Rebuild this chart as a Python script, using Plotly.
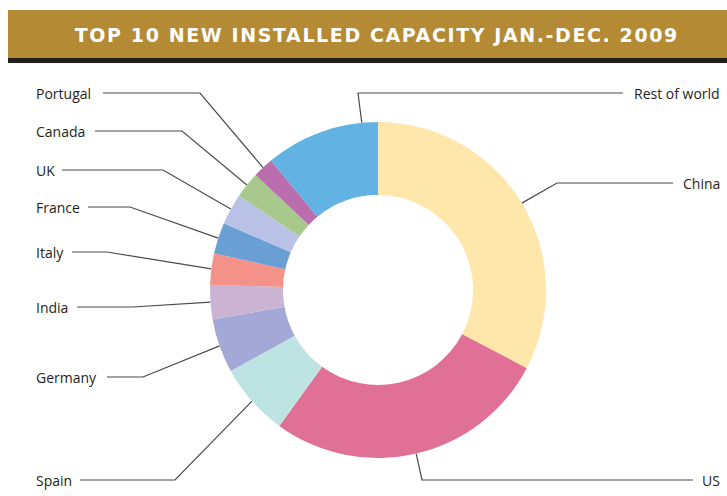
import math
import plotly.graph_objects as go

# share of new installed capacity (%), clockwise from 12 o'clock
countries = ["China", "US", "Spain", "Germany", "India", "Italy", "France",
             "UK", "Canada", "Portugal", "Rest of world"]
shares = [32.7, 27.3, 7.0, 5.2, 3.3, 3.0, 3.0, 3.0, 2.5, 2.0, 11.0]
colors = ["#FFE6AA", "#E07095", "#BEE3E3", "#A3A8D6", "#CBB3D3", "#F4928A",
          "#6A9FD6", "#B9C2E6", "#A8C98B", "#BA6EAE", "#62B3E3"]

W, H = 727, 496
CX, CY, R = 378, 290, 168

# label layout in pixels: (side, text y, line start x, elbow x, anchor fraction in slice)
LABELS = {
    "Portugal":      ("left", 93, 103, 200, 0.5),
    "Canada":        ("left", 131, 95, 182, 0.5),
    "UK":            ("left", 170, 62, 163, 0.5),
    "France":        ("left", 207, 88, 130, 0.5),
    "Italy":         ("left", 252, 72, 107, 0.5),
    "India":         ("left", 307, 77, 133, 0.5),
    "Germany":       ("left", 377, 107, 143, 0.5),
    "Spain":         ("left", 480, 80, 175, 0.5),
    "Rest of world": ("right", 93, 623, 358, 0.86),
    "China":         ("right", 183, 673, 557, 0.5),
    "US":            ("right", 480, 693, 422, 0.5),
}

fig = go.Figure()

fig.add_trace(go.Pie(
    labels=countries, values=shares, sort=False, direction="clockwise",
    rotation=0, hole=95 / R, textinfo="none", hoverinfo="label+percent",
    marker=dict(colors=colors, line=dict(width=0)), showlegend=False,
    domain=dict(x=[(CX - R) / W, (CX + R) / W], y=[1 - (CY + R) / H, 1 - (CY - R) / H]),
))

total = sum(shares)
start = 0.0
annotations = []
for name, val in zip(countries, shares):
    side, ty, lx, ex, frac = LABELS[name]
    ang = math.radians((start + val * frac) / total * 360)
    start += val
    ax = CX + R * math.sin(ang)
    ay = CY - R * math.cos(ang)
    fig.add_trace(go.Scatter(
        x=[lx, ex, ax], y=[ty, ty, ay], mode="lines",
        line=dict(color="#4a4a4a", width=1.2), hoverinfo="skip", showlegend=False,
    ))
    annotations.append(dict(
        x=34 if side == "left" else 722, y=ty, xref="x", yref="y",
        text=name, showarrow=False, xanchor=side, yanchor="middle",
        font=dict(family="Open Sans", size=14, color="#231F20"),
    ))

annotations.append(dict(
    x=377, y=35, xref="x", yref="y", text="<b>TOP 10 NEW INSTALLED CAPACITY JAN.-DEC. 2009</b>",
    showarrow=False, xanchor="center", yanchor="middle", name="title",
    font=dict(family="DejaVu Sans", size=19, color="white"),
))

fig.update_layout(
    width=W, height=H, margin=dict(l=0, r=0, t=0, b=0),
    paper_bgcolor="white", plot_bgcolor="rgba(0,0,0,0)",
    xaxis=dict(range=[0, W], visible=False, fixedrange=True),
    yaxis=dict(range=[H, 0], visible=False, fixedrange=True),
    shapes=[
        dict(type="rect", xref="x", yref="y", x0=8, x1=W, y0=10, y1=58,
             fillcolor="#B48A34", line=dict(width=0), layer="below"),
        dict(type="rect", xref="x", yref="y", x0=8, x1=W, y0=58, y1=63,
             fillcolor="#231F20", line=dict(width=0), layer="below"),
    ],
    annotations=annotations,
)

# drop the page margin and widen the title's letter spacing like the original banner
post = """
document.body.style.margin = '0';
document.querySelectorAll('.annotation-text').forEach(function (t) {
  if (t.textContent.indexOf('TOP 10') === 0) { t.style.letterSpacing = '1.6px'; }
});
"""
fig.write_html("out.html", post_script=post, config={"displayModeBar": False})
